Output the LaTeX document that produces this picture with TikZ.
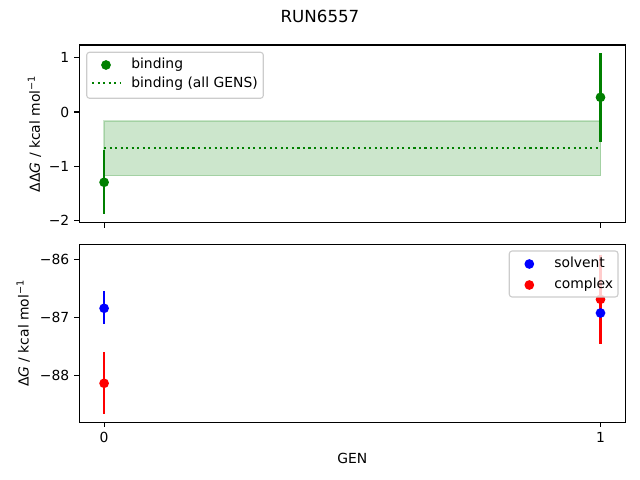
\documentclass[tikz,border=0pt]{standalone}
\usepackage{fontspec}
\setmainfont{DejaVu Sans}
\usepackage{xcolor}
\definecolor{mplgreen}{HTML}{008000}
\definecolor{mplblue}{HTML}{0000FF}
\definecolor{mplred}{HTML}{FF0000}
\definecolor{legendedge}{HTML}{CCCCCC}
\tikzset{
  axesframe/.style={draw=black,line width=0.8bp},
  tickline/.style={line width=0.8bp},
  errbar/.style={line width=1.5bp},
  dot/.style={circle,inner sep=0pt,minimum size=7bp},
  ticklabel/.style={font=\fontsize{10bp}{12bp}\selectfont,inner sep=0pt},
  legendbox/.style={draw=legendedge,fill=white,fill opacity=0.8,rounded corners=2bp,line width=0.8bp},
}

\begin{document}
\begin{tikzpicture}[x=0.01in,y=-0.01in]
\useasboundingbox (0,0) rectangle (640,480);
\node (title) at (320,16.7) [font=\fontsize{12bp}{14bp}\selectfont] {RUN6557};

% upper panel
\fill[mplgreen,opacity=0.2] (104.1,121) rectangle (600.5,175.7);
\draw[mplgreen,opacity=0.2,line width=1bp] (104.1,121) rectangle (600.5,175.7);
\draw[mplgreen,line width=1.5bp,dash pattern=on 1.5bp off 2.475bp] (104.1,147.7) -- (600.5,147.7);
\draw[errbar,mplgreen] (104.1,150) -- (104.1,214.3);
\draw[errbar,mplgreen] (600.5,53.3) -- (600.5,141.7);
\node (b0) at (104.1,182.3) [dot,fill=mplgreen] {};
\node (b1) at (600.5,97.3) [dot,fill=mplgreen] {};
\draw[axesframe] (79.3,45) rectangle (625.3,222.7);
\foreach \ty/\tl in {57.7/1,112/0,166.3/\textminus1,220.6/\textminus2}{
  \draw[tickline] (79.3,\ty) -- (74.4,\ty);
  \node at (69.6,\ty) [ticklabel,anchor=east] {\tl};
}
\foreach \tx in {104.1,600.5}
  \draw[tickline] (\tx,222.7) -- (\tx,227.6);
\node (ylabtop) at (34.5,133.8) [rotate=90,ticklabel] {ΔΔ\textit{G} / kcal mol\textsuperscript{\textminus1}};
\draw[legendbox] (86.7,52.3) rectangle (263.3,98.3);
\node (legbind) at (106,65) [dot,fill=mplgreen] {};
\node at (131,69) [ticklabel,anchor=base west] {binding};
\draw[mplgreen,line width=1.5bp,dash pattern=on 1.5bp off 2.475bp] (92,83.3) -- (120,83.3);
\node at (131,87.5) [ticklabel,anchor=base west] {binding (all GENS)};

% lower panel
\draw[errbar,mplblue] (104.1,291) -- (104.1,324);
\draw[errbar,mplred] (104.1,352.3) -- (104.1,413.7);
\draw[errbar,mplred] (600.5,254.9) -- (600.5,343.7);
\node (s0) at (104.1,308.3) [dot,fill=mplblue] {};
\node (c0) at (104.1,383.3) [dot,fill=mplred] {};
\node (s1) at (600.5,313) [dot,fill=mplblue] {};
\node (c1) at (600.5,299.3) [dot,fill=mplred] {};
\draw[axesframe] (79.3,244.3) rectangle (625.3,422.3);
\foreach \ty/\tl in {259.3/\textminus86,317.3/\textminus87,375.3/\textminus88}{
  \draw[tickline] (79.3,\ty) -- (74.4,\ty);
  \node at (69.6,\ty) [ticklabel,anchor=east] {\tl};
}
\foreach \tx/\tl in {104.1/0,600.5/1}{
  \draw[tickline] (\tx,422.3) -- (\tx,427.2);
  \node at (\tx,432.3) [ticklabel,anchor=north] {\tl};
}
\node (xlab) at (352.3,452.7) [ticklabel,anchor=north] {GEN};
\node (ylabbot) at (23.3,333.3) [rotate=90,ticklabel] {Δ\textit{G} / kcal mol\textsuperscript{\textminus1}};
\draw[legendbox] (509.3,251) rectangle (618,297);
\node (legsolv) at (529.3,264) [dot,fill=mplblue] {};
\node at (554,268) [ticklabel,anchor=base west] {solvent};
\node (legcomp) at (529.3,285) [dot,fill=mplred] {};
\node at (554,289) [ticklabel,anchor=base west] {complex};
\end{tikzpicture}
\end{document}
